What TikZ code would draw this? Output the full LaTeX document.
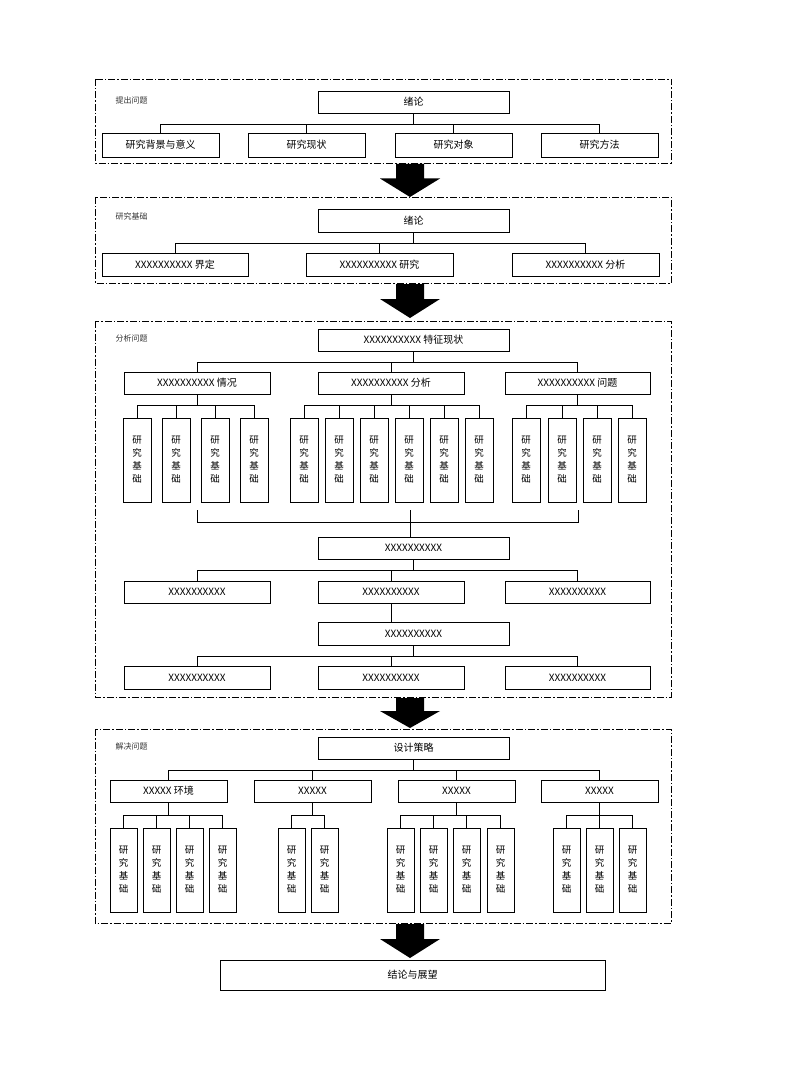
\documentclass[tikz,border=0pt]{standalone}
\usepackage{fontspec}
\newfontfamily\cjk{Noto Sans CJK SC}
\begin{document}
\begin{tikzpicture}[x=1pt,y=1pt,font=\cjk\fontsize{10}{12}\selectfont,
 bx/.style={draw,line width=0.9pt,inner sep=0pt,fill=white},
 sec/.style={draw,line width=0.9pt,dash pattern=on 7pt off 2pt on 1.5pt off 2pt},
 ln/.style={line width=0.6pt},
 lbl/.style={anchor=west,font=\cjk\fontsize{8}{10}\selectfont,text=black!80}]
\useasboundingbox (0,0) rectangle (800,-1067);
\newcommand\B[6]{\node[bx,minimum width={(#4-#2)*1pt},minimum height={(#5-#3)*1pt}] (#1) at ({(#2+#4)/2},{-(#3+#5)/2}) {#6};}
\newcommand\C[5]{\node[bx,minimum width={(#3-#2)*1pt},minimum height={(#5-#4)*1pt},align=center,font=\cjk\fontsize{9.5}{13}\selectfont] (#1) at ({(#2+#3)/2},{-(#4+#5)/2}) {研\\究\\基\\础};}
\newcommand\T[3]{\foreach \c in {#3} {\draw[ln] (#1.south) -- ++(0,-#2) -| (\c.north);}}
\newcommand\Arr[3]{\fill (#1-14,-#2) -- (#1+14,-#2) -- (#1+14,{-(#2+#3)/2+2}) -- (#1+30,{-(#2+#3)/2+2}) -- (#1,-#3) -- (#1-30,{-(#2+#3)/2+2}) -- (#1-14,{-(#2+#3)/2+2}) -- cycle;}
% sections
\draw[sec] (95,-79) rectangle (671,-163);
\node[lbl] (l1) at (112,-100) {提出问题};
\draw[sec] (95,-197) rectangle (671,-283);
\node[lbl] (l2) at (112,-216) {研究基础};
\draw[sec] (95,-321) rectangle (671,-697);
\node[lbl] (l3) at (112,-338) {分析问题};
\draw[sec] (95,-729) rectangle (671,-923);
\node[lbl] (l4) at (112,-746) {解决问题};
\Arr{410}{164}{197}
\Arr{410}{284}{318}
\Arr{410}{698}{728}
\Arr{410}{924}{958}
% section 1
\B{a}{318}{91}{509}{113}{绪论}
\B{a1}{102}{133}{219}{157}{研究背景与意义}
\B{a2}{248}{133}{365}{157}{研究现状}
\B{a3}{395}{133}{512}{157}{研究对象}
\B{a4}{541}{133}{658}{157}{研究方法}
\T{a}{11}{a1,a2,a3,a4}
% section 2
\B{b}{318}{209}{509}{232}{绪论}
\B{b1}{102}{253}{248}{276}{XXXXXXXXXX 界定}
\B{b2}{306}{253}{453}{276}{XXXXXXXXXX 研究}
\B{b3}{512}{253}{659}{276}{XXXXXXXXXX 分析}
\T{b}{11}{b1,b2,b3}
% section 3
\B{c}{318}{329}{509}{351}{XXXXXXXXXX 特征现状}
\B{c1}{124}{372}{270}{394}{XXXXXXXXXX 情况}
\B{c2}{318}{372}{464}{394}{XXXXXXXXXX 分析}
\B{c3}{505}{372}{650}{394}{XXXXXXXXXX 问题}
\T{c}{11}{c1,c2,c3}
\C{p1}{123}{151}{418}{502}\C{p2}{162}{190}{418}{502}\C{p3}{201}{229}{418}{502}\C{p4}{240}{268}{418}{502}
\T{c1}{11}{p1,p2,p3,p4}
\C{q1}{290}{318}{418}{502}\C{q2}{325}{353}{418}{502}\C{q3}{360}{388}{418}{502}\C{q4}{395}{423}{418}{502}\C{q5}{430}{458}{418}{502}\C{q6}{465}{493}{418}{502}
\T{c2}{11}{q1,q2,q3,q4,q5,q6}
\C{r1}{512}{540}{418}{502}\C{r2}{548}{576}{418}{502}\C{r3}{583}{611}{418}{502}\C{r4}{618}{646}{418}{502}
\T{c3}{11}{r1,r2,r3,r4}
\B{d}{318}{537}{509}{559}{XXXXXXXXXX}
\coordinate (k1) at (197,-510);
\coordinate (k2) at (410,-510);
\coordinate (k3) at (578,-510);
\draw[ln] (k1) -- ++(0,-12) -| (k3);
\draw[ln] (k2) -- (d.north-|k2);
\B{d1}{124}{581}{270}{603}{XXXXXXXXXX}
\B{d2}{318}{581}{464}{603}{XXXXXXXXXX}
\B{d3}{505}{581}{650}{603}{XXXXXXXXXX}
\T{d}{11}{d1,d2,d3}
\B{e}{318}{622}{509}{645}{XXXXXXXXXX}
\draw[ln] (d2.south) -- (d2.south|-e.north);
\B{e1}{124}{666}{270}{689}{XXXXXXXXXX}
\B{e2}{318}{666}{464}{689}{XXXXXXXXXX}
\B{e3}{505}{666}{650}{689}{XXXXXXXXXX}
\T{e}{11}{e1,e2,e3}
% section 4
\B{f}{318}{737}{509}{759}{设计策略}
\B{f1}{110}{780}{227}{802}{XXXXX 环境}
\B{f2}{254}{780}{371}{802}{XXXXX}
\B{f3}{398}{780}{515}{802}{XXXXX}
\B{f4}{541}{780}{658}{802}{XXXXX}
\T{f}{11}{f1,f2,f3,f4}
\C{s1}{110}{137}{828}{912}\C{s2}{143}{170}{828}{912}\C{s3}{176}{203}{828}{912}\C{s4}{209}{236}{828}{912}
\T{f1}{13}{s1,s2,s3,s4}
\C{t1}{278}{305}{828}{912}\C{t2}{311}{338}{828}{912}
\T{f2}{13}{t1,t2}
\C{u1}{387}{414}{828}{912}\C{u2}{420}{447}{828}{912}\C{u3}{453}{480}{828}{912}\C{u4}{487}{514}{828}{912}
\T{f3}{13}{u1,u2,u3,u4}
\C{v1}{553}{580}{828}{912}\C{v2}{586}{613}{828}{912}\C{v3}{619}{646}{828}{912}
\T{f4}{13}{v1,v2,v3}
\B{g}{220}{960}{605}{990}{结论与展望}
\end{tikzpicture}
\end{document}
